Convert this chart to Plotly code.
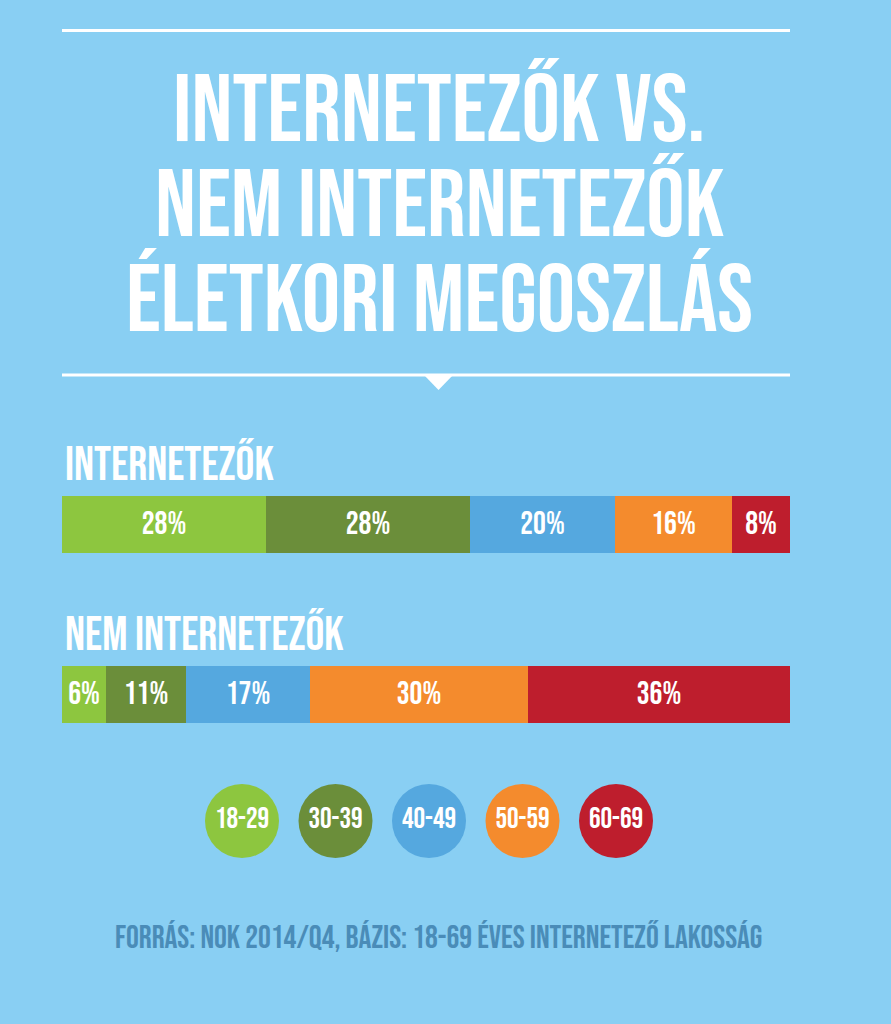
import plotly.graph_objects as go

# ---- data ----
groups = ["18-29", "30-39", "40-49", "50-59", "60-69"]
internetezok = [28, 28, 20, 16, 8]
nem_internetezok = [6, 11, 17, 30, 36]
colors = ["#8DC63F", "#6B8E3A", "#55A8DF", "#F48B2D", "#BE1E2D"]
title_lines = ["INTERNETEZŐK VS.", "NEM INTERNETEZŐK", "ÉLETKORI MEGOSZLÁS"]
section_labels = ["INTERNETEZŐK", "NEM INTERNETEZŐK"]
source_text = "FORRÁS: NOK 2014/Q4, BÁZIS: 18-69 ÉVES INTERNETEZŐ LAKOSSÁG"

# ---- layout constants ----
W, H = 891, 1024
BG = "#89CFF3"
FONT = "Bebas Neue, Oswald, Liberation Sans Narrow, Arial Narrow, sans-serif"
bar_y = [524.5, 694.5]
bar_h = 57
x0_px, x1_px = 62, 790

fig = go.Figure()

for i, g in enumerate(groups):
    vals = [internetezok[i], nem_internetezok[i]]
    fig.add_trace(go.Bar(
        orientation="h", x=vals, y=bar_y, width=bar_h,
        marker=dict(color=colors[i], line=dict(width=0)),
        text=[f"{v}%" for v in vals], textposition="inside",
        insidetextanchor="middle", constraintext="none",
        textfont=dict(family=FONT, size=32, color="white"),
        xaxis="x", yaxis="y", name=g, showlegend=False, hoverinfo="skip",
    ))

# legend circles
cx0, cstep, cy = 242, 93.5, 821
fig.add_trace(go.Scatter(
    x=[cx0 + i * cstep for i in range(len(groups))], y=[cy] * len(groups),
    mode="markers+text", text=groups, textposition="middle center",
    marker=dict(size=74, color=colors, line=dict(width=0)),
    textfont=dict(family=FONT, size=29, color="white"),
    xaxis="x2", yaxis="y", showlegend=False, hoverinfo="skip",
))

annotations = []
title_y = [112, 207, 302]
for t, yy in zip(title_lines, title_y):
    annotations.append(dict(
        text=t, x=439, y=yy, xref="x2", yref="y", showarrow=False,
        xanchor="center", yanchor="middle",
        font=dict(family=FONT, size=96, color="white"),
    ))
for t, yy in zip(section_labels, [466, 636]):
    annotations.append(dict(
        text=t, x=63, y=yy, xref="x2", yref="y", showarrow=False,
        xanchor="left", yanchor="middle",
        font=dict(family=FONT, size=47, color="white"),
    ))
annotations.append(dict(
    text=source_text, x=438.5, y=938, xref="x2", yref="y", showarrow=False,
    xanchor="center", yanchor="middle",
    font=dict(family=FONT, size=32, color="#4A8CB8"),
))

shapes = [
    dict(type="line", xref="x2", yref="y", x0=x0_px, x1=x1_px, y0=30.5, y1=30.5,
         line=dict(color="white", width=3)),
    dict(type="line", xref="x2", yref="y", x0=x0_px, x1=x1_px, y0=375, y1=375,
         line=dict(color="white", width=3)),
    dict(type="path", xref="x2", yref="y", path="M 423 374 L 454 374 L 438.5 390 Z",
         fillcolor="white", line=dict(width=0)),
]

fig.update_layout(
    width=W, height=H, margin=dict(l=0, r=0, t=0, b=0),
    paper_bgcolor=BG, plot_bgcolor="rgba(0,0,0,0)", barmode="stack", bargap=0,
    uniformtext=dict(minsize=20, mode="show"),
    xaxis=dict(domain=[x0_px / W, x1_px / W], range=[0, 100], visible=False, fixedrange=True),
    xaxis2=dict(domain=[0, 1], range=[0, W], anchor="y", visible=False, fixedrange=True),
    yaxis=dict(range=[H, 0], visible=False, fixedrange=True),
    annotations=annotations, shapes=shapes,
)

fig.write_html("out.html")
